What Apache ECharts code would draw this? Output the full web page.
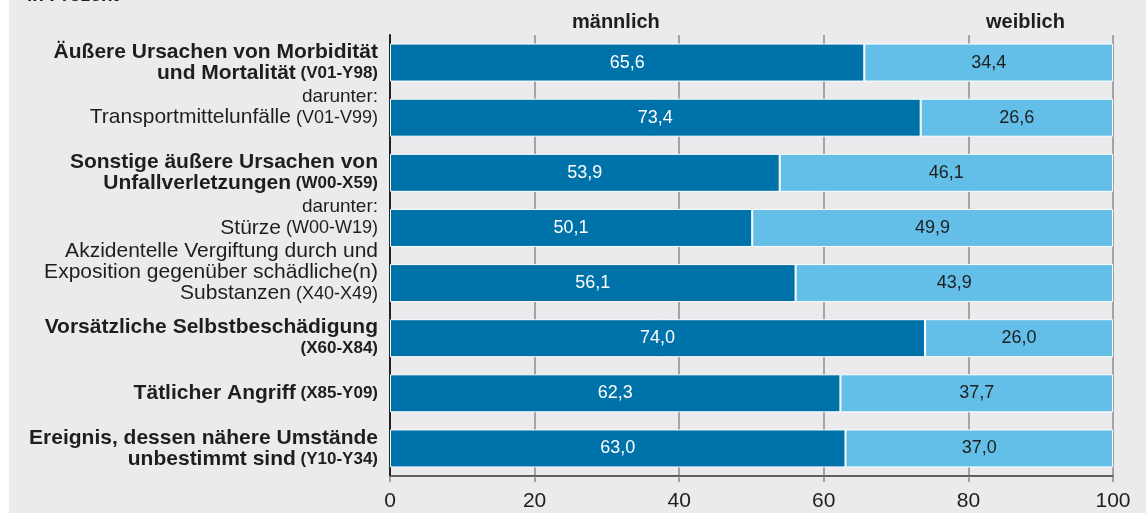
<!DOCTYPE html>
<html>
<head>
<meta charset="utf-8">
<script src="https://cdn.jsdelivr.net/npm/echarts@6/dist/echarts.min.js"></script>
<style>
  html, body { margin: 0; padding: 0; background: #fff; }
  #chart { width: 1146px; height: 515px; }
</style>
</head>
<body>
<div id="chart"></div>
<script>
// causes of death / injury, top to bottom
const causes = [
  'Äußere Ursachen von Morbidität\nund Mortalität',
  'Transportmittelunfälle',
  'Sonstige äußere Ursachen von\nUnfallverletzungen',
  'Stürze',
  'Akzidentelle Vergiftung durch und\nExposition gegenüber schädliche(n)\nSubstanzen',
  'Vorsätzliche Selbstbeschädigung\n',
  'Tätlicher Angriff',
  'Ereignis, dessen nähere Umstände\nunbestimmt sind'
]
const codes = ['V01-Y98', 'V01-V99', 'W00-X59', 'W00-W19', 'X40-X49', 'X60-X84', 'X85-Y09', 'Y10-Y34']
// sub-items are printed in normal weight, some preceded by "darunter:"
const isSub = [false, true, false, true, true, false, false, false]
const hasDarunter = [false, true, false, true, false, false, false, false]

const seriesNames = ['männlich', 'weiblich']
const male = [65.6, 73.4, 53.9, 50.1, 56.1, 74.0, 62.3, 63.0]
const female = [34.4, 26.6, 46.1, 49.9, 43.9, 26.0, 37.7, 37.0]

const xTicks = { min: 0, max: 100, interval: 20 }

const font = '"Liberation Sans", Arial, Helvetica, sans-serif'
const ink = '#1e1e1e'
const darkBlue = '#0072aa'
const lightBlue = '#63bfe8'

function causeLabel(value, i) {
  const main = isSub[i] ? 'n' : 'b'
  const code = isSub[i] ? 'nc' : 'bc'
  const lines = causes[i].split('\n')
  let out = lines.map((l, k) => {
    let s = l ? '{' + main + '|' + l + '}' : ''
    if (k === lines.length - 1) s += '{' + code + '| (' + codes[i] + ')}'
    return s
  })
  if (hasDarunter[i]) out.unshift('{d|darunter:}')
  if (isSub[i]) out.push('{d| }')
  return out.join('\n')
}

const fmt = (v) => v.toFixed(1).replace('.', ',')

const chart = echarts.init(document.getElementById('chart'), null, { renderer: 'canvas' })

const option = {
  animation: false,
  backgroundColor: '#fff',
  textStyle: { fontFamily: font },
  title: {
    text: 'in Prozent',
    left: 22,
    top: -19,
    textStyle: { fontSize: 19, fontWeight: 'bold', color: ink, fontFamily: font }
  },
  graphic: [
    {
      type: 'rect', z: -10, silent: true,
      shape: { x: 9, y: 0, width: 1137, height: 513 },
      style: { fill: '#ebebed' }
    },
    {
      type: 'text', left: 572, top: 12,
      style: { text: seriesNames[0], font: 'bold 20px ' + font, fill: ink }
    },
    {
      type: 'text', left: 986, top: 12,
      style: { text: seriesNames[1], font: 'bold 20px ' + font, fill: ink }
    }
  ],
  grid: { left: 390, right: 33, top: 35, bottom: 39, containLabel: false },
  xAxis: {
    type: 'value',
    min: xTicks.min,
    max: xTicks.max,
    interval: xTicks.interval,
    axisLine: { show: true, lineStyle: { color: '#333', width: 1.5 } },
    axisTick: { show: true, length: 6, lineStyle: { color: '#888', width: 1.5 } },
    axisLabel: { fontSize: 21, color: ink, margin: 15, fontFamily: font },
    splitLine: { show: true, lineStyle: { color: '#8c8c8c', width: 1.5 } }
  },
  yAxis: {
    type: 'category',
    inverse: true,
    data: causes,
    axisLine: { show: true, lineStyle: { color: '#222', width: 2 } },
    axisTick: { show: false },
    axisLabel: {
      margin: 12,
      color: ink,
      formatter: causeLabel,
      rich: {
        b: { fontSize: 21, fontWeight: 'bold', lineHeight: 21, color: ink, fontFamily: font },
        bc: { fontSize: 17, fontWeight: 'bold', lineHeight: 21, color: ink, fontFamily: font },
        n: { fontSize: 21, lineHeight: 21, color: ink, fontFamily: font },
        nc: { fontSize: 18, lineHeight: 21, color: ink, fontFamily: font },
        d: { fontSize: 19, lineHeight: 21, color: ink, fontFamily: font }
      }
    }
  },
  series: [
    {
      name: seriesNames[0],
      type: 'bar',
      stack: 'total',
      barWidth: 38,
      data: male,
      itemStyle: { color: darkBlue, borderColor: '#fff', borderWidth: 1 },
      label: {
        show: true, position: 'inside', color: '#fff', fontSize: 18, fontFamily: font,
        formatter: (p) => fmt(p.value)
      }
    },
    {
      name: seriesNames[1],
      type: 'bar',
      stack: 'total',
      barWidth: 38,
      data: female,
      itemStyle: { color: lightBlue, borderColor: '#fff', borderWidth: 1 },
      label: {
        show: true, position: 'inside', color: ink, fontSize: 18, fontFamily: font,
        formatter: (p) => fmt(p.value)
      }
    }
  ]
}

chart.setOption(option)
</script>
</body>
</html>
